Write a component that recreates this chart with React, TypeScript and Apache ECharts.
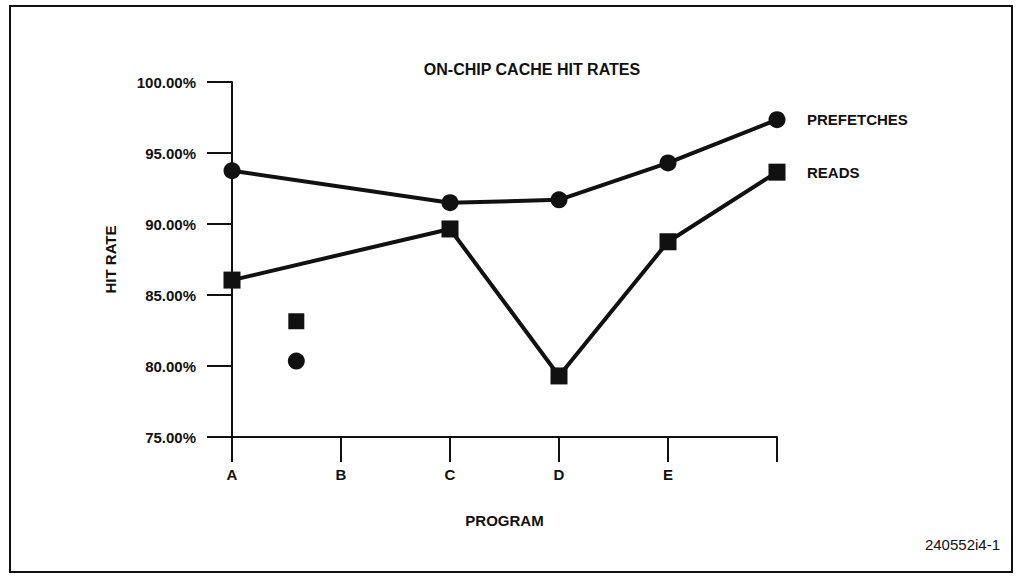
import React, { useEffect, useRef } from "react";
import * as echarts from "echarts";

const tickLabels = ["A", "B", "C", "D", "E", ""];
const pointPositions = [0, 2, 3, 4, 5];
const prefetchRates = [93.75, 91.5, 91.7, 94.3, 97.35];
const readRates = [86.05, 89.65, 79.3, 88.75, 93.65];
const strayPosition = [0.59];
const straySquare = [83.15];
const strayCircle = [80.35];
const yTicks = [75, 80, 85, 90, 95, 100];

const FONT = "'Liberation Sans', Arial, Helvetica, sans-serif";

export default function App() {
  const ref = useRef<HTMLDivElement>(null);
  useEffect(() => {
    document.body.style.margin = "0";
    const chart = echarts.init(ref.current!, null, { renderer: "svg" });
    const black = "#111";
    const boldText = { fontFamily: FONT, fontSize: 15, fontWeight: "bold" as const, color: black };
    chart.setOption({
      animation: false,
      backgroundColor: "#fff",
      textStyle: { fontFamily: FONT, color: black },
      title: {
        text: "ON-CHIP CACHE HIT RATES",
        left: 527,
        top: 56,
        textAlign: "center",
        textStyle: { ...boldText, fontSize: 16 },
      },
      grid: { left: 232, right: 240, top: 82, bottom: 142 },
      xAxis: {
        type: "value",
        min: 0,
        max: 5,
        interval: 1,
        name: "PROGRAM",
        nameLocation: "middle",
        nameGap: 76,
        nameTextStyle: boldText,
        axisLine: { show: true, lineStyle: { color: black, width: 2 } },
        axisTick: { show: true, length: 25, lineStyle: { color: black, width: 2 } },
        axisLabel: {
          margin: 30,
          ...boldText,
          formatter: (v: number) => tickLabels[Math.round(v)] ?? "",
        },
        splitLine: { show: false },
      },
      yAxis: {
        type: "value",
        min: yTicks[0],
        max: yTicks[yTicks.length - 1],
        interval: 5,
        name: "HIT RATE",
        nameLocation: "middle",
        nameGap: 114,
        nameRotate: 90,
        nameTextStyle: boldText,
        axisLine: { show: true, lineStyle: { color: black, width: 2 } },
        axisTick: { show: true, length: 25, lineStyle: { color: black, width: 2 } },
        axisLabel: {
          margin: 36,
          ...boldText,
          formatter: (v: number) => v.toFixed(2) + "%",
        },
        splitLine: { show: false },
      },
      series: [
        {
          name: "PREFETCHES",
          type: "line",
          data: pointPositions.map((x, i) => [x, prefetchRates[i]]),
          symbol: "circle",
          symbolSize: 17,
          lineStyle: { color: black, width: 4 },
          itemStyle: { color: black },
          endLabel: { show: true, formatter: "{a}", distance: 30, ...boldText },
        },
        {
          name: "READS",
          type: "line",
          data: pointPositions.map((x, i) => [x, readRates[i]]),
          symbol: "rect",
          symbolSize: 17,
          lineStyle: { color: black, width: 4 },
          itemStyle: { color: black },
          endLabel: { show: true, formatter: "{a}", distance: 30, ...boldText },
        },
        {
          name: "stray-reads",
          type: "scatter",
          data: strayPosition.map((x, i) => [x, straySquare[i]]),
          symbol: "rect",
          symbolSize: 16,
          itemStyle: { color: black, opacity: 1 },
        },
        {
          name: "stray-prefetch",
          type: "scatter",
          data: strayPosition.map((x, i) => [x, strayCircle[i]]),
          symbol: "circle",
          symbolSize: 17,
          itemStyle: { color: black, opacity: 1 },
        },
      ],
      graphic: [
        {
          type: "rect",
          shape: { x: 10, y: 6, width: 1002, height: 566 },
          style: { fill: "none", stroke: black, lineWidth: 2 },
          silent: true,
        },
        {
          type: "text",
          right: 17,
          top: 537,
          style: { text: "240552i4-1", fontFamily: FONT, fontSize: 15, fill: black },
        },
      ],
    });
    return () => chart.dispose();
  }, []);
  return <div ref={ref} style={{ width: 1017, height: 579 }} />;
}
